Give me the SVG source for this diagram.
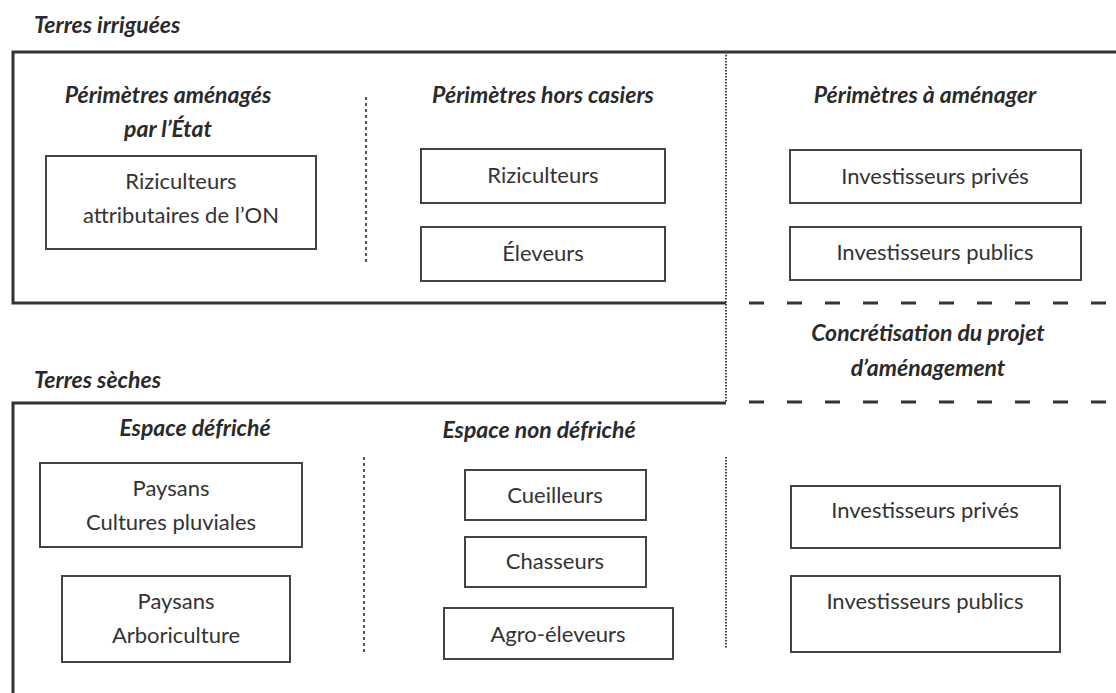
<svg xmlns="http://www.w3.org/2000/svg" width="1116" height="693" viewBox="0 0 1116 693">
<style>
.bg{fill:#fff}
.frame{fill:none;stroke:#333;stroke-width:3}
.box{fill:#fff;stroke:#444;stroke-width:2}
.sep{fill:none;stroke:#555;stroke-width:2;stroke-dasharray:3 3}
.fine{fill:none;stroke:#444;stroke-width:2;stroke-dasharray:1.5 1.5}
.dash{fill:none;stroke:#333;stroke-width:3;stroke-dasharray:15 23}
.t{font-family:Lato,"Open Sans","Liberation Sans",sans-serif;font-size:22px;fill:#333;text-anchor:middle}
.h{font-family:Lato,"Open Sans","Liberation Sans",sans-serif;font-size:23px;font-weight:bold;font-style:italic;fill:#2a2a2a;text-anchor:middle}
.lbl{font-family:Lato,"Open Sans","Liberation Sans",sans-serif;font-size:23px;font-weight:bold;font-style:italic;fill:#2a2a2a}
</style>
<rect class="bg" x="0" y="0" width="1116" height="693"/>

<g id="terres-irriguees">
  <text class="lbl" x="34" y="33">Terres irriguées</text>
  <path class="frame" d="M1116,52 H13 V303 H726"/>
</g>

<g id="terres-seches">
  <text class="lbl" x="34" y="388">Terres sèches</text>
  <path class="frame" d="M726,403 H13 V693"/>
</g>

<g id="separateurs">
  <line class="fine" x1="726" y1="52" x2="726" y2="403"/>
  <line class="sep" x1="366" y1="97" x2="366" y2="263"/>
  <line class="sep" x1="364" y1="457" x2="364" y2="652"/>
  <line class="fine" x1="726" y1="457" x2="726" y2="649"/>
  <line class="dash" x1="749" y1="303" x2="1116" y2="303"/>
  <line class="dash" x1="749" y1="402" x2="1116" y2="402"/>
</g>

<g id="perimetres-amenages">
  <text class="h" x="168" y="103">Périmètres aménagés</text>
  <text class="h" x="168" y="137">par l’État</text>
</g>
<g id="perimetres-hors-casiers">
  <text class="h" x="543" y="103">Périmètres hors casiers</text>
</g>
<g id="perimetres-a-amenager">
  <text class="h" x="925" y="103">Périmètres à aménager</text>
</g>
<g id="concretisation">
  <text class="h" x="928" y="341">Concrétisation du projet</text>
  <text class="h" x="928" y="376">d’aménagement</text>
</g>
<g id="espace-defriche">
  <text class="h" x="195" y="436">Espace défriché</text>
</g>
<g id="espace-non-defriche">
  <text class="h" x="539" y="438">Espace non défriché</text>
</g>

<g id="riziculteurs-on">
  <rect class="box" x="46" y="156" width="270" height="93"/>
  <text class="t" x="181" y="189">Riziculteurs</text>
  <text class="t" x="181" y="223">attributaires de l’ON</text>
</g>
<g id="riziculteurs">
  <rect class="box" x="421" y="149" width="244" height="54"/>
  <text class="t" x="543" y="183">Riziculteurs</text>
</g>
<g id="eleveurs">
  <rect class="box" x="421" y="227" width="244" height="54"/>
  <text class="t" x="543" y="261">Éleveurs</text>
</g>
<g id="investisseurs-prives-irr">
  <rect class="box" x="790" y="150" width="291" height="53"/>
  <text class="t" x="935" y="184">Investisseurs privés</text>
</g>
<g id="investisseurs-publics-irr">
  <rect class="box" x="790" y="227" width="291" height="53"/>
  <text class="t" x="935" y="260">Investisseurs publics</text>
</g>

<g id="paysans-cultures">
  <rect class="box" x="40" y="463" width="262" height="84"/>
  <text class="t" x="171" y="496">Paysans</text>
  <text class="t" x="171" y="530">Cultures pluviales</text>
</g>
<g id="paysans-arbo">
  <rect class="box" x="62" y="576" width="228" height="86"/>
  <text class="t" x="176" y="609">Paysans</text>
  <text class="t" x="176" y="643">Arboriculture</text>
</g>
<g id="cueilleurs">
  <rect class="box" x="465" y="470" width="181" height="50"/>
  <text class="t" x="555" y="503">Cueilleurs</text>
</g>
<g id="chasseurs">
  <rect class="box" x="465" y="537" width="181" height="50"/>
  <text class="t" x="555" y="569">Chasseurs</text>
</g>
<g id="agro-eleveurs">
  <rect class="box" x="444" y="608" width="229" height="51"/>
  <text class="t" x="558" y="642">Agro-éleveurs</text>
</g>
<g id="investisseurs-prives-sec">
  <rect class="box" x="791" y="486" width="269" height="62"/>
  <text class="t" x="925" y="518">Investisseurs privés</text>
</g>
<g id="investisseurs-publics-sec">
  <rect class="box" x="791" y="576" width="269" height="76"/>
  <text class="t" x="925" y="609">Investisseurs publics</text>
</g>
</svg>
